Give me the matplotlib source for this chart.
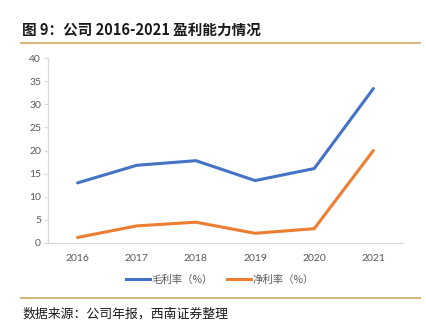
import matplotlib
matplotlib.use("Agg")
import matplotlib.pyplot as plt
from matplotlib.lines import Line2D

plt.rcParams['font.family'] = ['Noto Sans CJK SC', 'DejaVu Sans']

years = ["2016", "2017", "2018", "2019", "2020", "2021"]
gross_margin = [13.0, 16.8, 17.8, 13.5, 16.1, 33.4]
net_margin = [1.2, 3.7, 4.5, 2.1, 3.1, 20.0]
yticks = [0, 5, 10, 15, 20, 25, 30, 35, 40]

title = "图 9：公司 2016-2021 盈利能力情况"
source = "数据来源：公司年报，西南证券整理"
series_names = ["毛利率（%）", "净利率（%）"]

blue = "#4472C4"
orange = "#ED7D31"
rule = "#D6AE72"
grid_grey = "#D9D9D9"
label_grey = "#595959"

W, H = 427, 330
fig = plt.figure(figsize=(W / 100, H / 100), dpi=100)

ax = fig.add_axes([48 / W, 1 - 243 / H, 355 / W, 185 / H])
x = list(range(len(years)))
ax.plot(x, gross_margin, color=blue, lw=2.2, solid_capstyle='round')
ax.plot(x, net_margin, color=orange, lw=2.2, solid_capstyle='round')

ax.set_xlim(-0.5, len(years) - 0.5)
ax.set_ylim(0, 40)
ax.set_yticks(yticks)
ax.set_xticks(x)
ax.set_xticklabels(years)
for s in ["top", "right"]:
    ax.spines[s].set_visible(False)
for s in ["left", "bottom"]:
    ax.spines[s].set_color(grid_grey)
    ax.spines[s].set_linewidth(0.9)
ax.tick_params(axis='y', length=3, width=0.8, color=grid_grey, labelsize=7.5,
               labelcolor=label_grey, pad=2)
ax.tick_params(axis='x', length=0, labelsize=7.5, labelcolor=label_grey, pad=8)
for lbl in ax.get_xticklabels() + ax.get_yticklabels():
    lbl.set_family(['Lato', 'DejaVu Sans'])
ax.set_facecolor('none')

# title and rules
fig.text(22 / W, 1 - 30 / H, title, fontsize=10.5, fontweight='bold',
         va='center', ha='left', color='#1a1a1a')
fig.add_artist(Line2D([21 / W, 420 / W], [1 - 43 / H, 1 - 43 / H],
                      color=rule, lw=1.3))
fig.add_artist(Line2D([21 / W, 420 / W], [1 - 298 / H, 1 - 298 / H],
                      color=rule, lw=1.3))
fig.text(22 / W, 1 - 314 / H, source, fontsize=9.3, va='center', ha='left',
         color='#1a1a1a', style='italic')

handles = [Line2D([], [], color=blue, lw=2.2), Line2D([], [], color=orange, lw=2.2)]
fig.legend(handles, series_names, loc='center', bbox_to_anchor=(220 / W, 1 - 280 / H),
           ncol=2, frameon=False, fontsize=7.5, handlelength=2.3, handletextpad=0.15,
           columnspacing=1.4, labelcolor=label_grey)

fig.savefig("out.png", dpi=100)
